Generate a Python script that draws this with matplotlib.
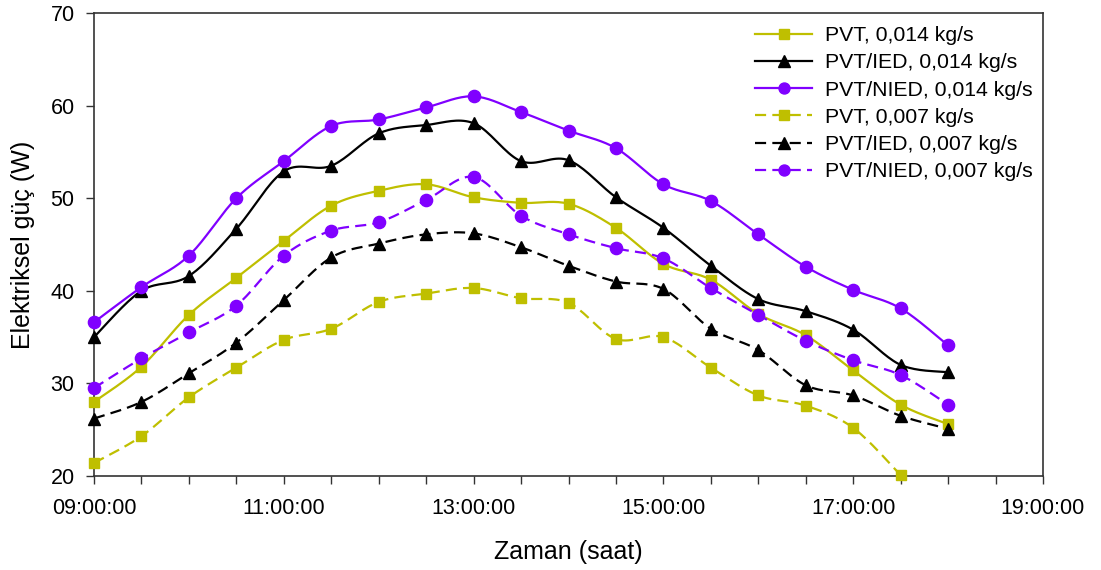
import numpy as np
import matplotlib
matplotlib.use("Agg")
import matplotlib.pyplot as plt
from matplotlib.ticker import MultipleLocator, FixedLocator, FixedFormatter

plt.rcParams['font.family'] = ['Liberation Sans', 'DejaVu Sans']

# time in hours (09:00 .. 18:00 every 30 min)
hours = [9.0, 9.5, 10.0, 10.5, 11.0, 11.5, 12.0, 12.5, 13.0, 13.5,
         14.0, 14.5, 15.0, 15.5, 16.0, 16.5, 17.0, 17.5, 18.0]

pvt_014 = [28.0, 31.8, 37.4, 41.4, 45.4, 49.2, 50.8, 51.5, 50.1, 49.5,
           49.4, 46.8, 42.9, 41.2, 37.5, 35.2, 31.4, 27.7, 25.6]
ied_014 = [35.0, 40.0, 41.6, 46.7, 52.9, 53.5, 57.0, 57.9, 58.1, 54.0,
           54.1, 50.1, 46.8, 42.7, 39.1, 37.8, 35.8, 32.0, 31.2]
nied_014 = [36.6, 40.4, 43.8, 50.0, 54.0, 57.8, 58.5, 59.8, 61.0, 59.3,
            57.3, 55.4, 51.5, 49.7, 46.1, 42.6, 40.1, 38.1, 34.1]
pvt_007 = [21.4, 24.3, 28.5, 31.7, 34.7, 35.9, 38.8, 39.7, 40.3, 39.2,
           38.7, 34.8, 35.0, 31.7, 28.7, 27.6, 25.2, 20.1]
ied_007 = [26.2, 28.0, 31.1, 34.4, 39.0, 43.6, 45.1, 46.1, 46.2, 44.7,
           42.7, 41.0, 40.2, 35.9, 33.6, 29.8, 28.7, 26.5, 25.1]
nied_007 = [29.5, 32.7, 35.5, 38.4, 43.8, 46.5, 47.4, 49.8, 52.3, 48.1,
            46.1, 44.6, 43.5, 40.3, 37.4, 34.6, 32.5, 30.9, 27.7]

labels = ["PVT, 0,014 kg/s", "PVT/IED, 0,014 kg/s", "PVT/NIED, 0,014 kg/s",
          "PVT, 0,007 kg/s", "PVT/IED, 0,007 kg/s", "PVT/NIED, 0,007 kg/s"]

x_tick_values = [9, 11, 13, 15, 17, 19]
x_tick_labels = ["09:00:00", "11:00:00", "13:00:00", "15:00:00", "17:00:00", "19:00:00"]

YELLOW = "#BFBF00"
PURPLE = "#8000FF"
BLACK = "#000000"


def smooth(xs, ys, n=20):
    """Excel-like smoothed line: cubic Bezier with Catmull-Rom control points."""
    xs = np.asarray(xs, float)
    ys = np.asarray(ys, float)
    P = np.column_stack([xs, ys])
    m = len(P)
    out = []
    t = np.linspace(0, 1, n)
    for i in range(m - 1):
        p0 = P[i - 1] if i > 0 else P[i]
        p1 = P[i]
        p2 = P[i + 1]
        p3 = P[i + 2] if i + 2 < m else P[i + 1]
        c1 = p1 + (p2 - p0) / 6.0
        c2 = p2 - (p3 - p1) / 6.0
        seg = ((1 - t) ** 3)[:, None] * p1 + (3 * (1 - t) ** 2 * t)[:, None] * c1 \
            + (3 * (1 - t) * t ** 2)[:, None] * c2 + (t ** 3)[:, None] * p2
        out.append(seg if i == 0 else seg[1:])
    arr = np.vstack(out)
    return arr[:, 0], arr[:, 1]


fig = plt.figure(figsize=(11.01, 5.70), dpi=100)
ax = fig.add_axes([94 / 1101, 1 - 476 / 570, (1043 - 94) / 1101, (476 - 13) / 570])

series = [
    (pvt_014, YELLOW, '-', 's', 7.8),
    (ied_014, BLACK, '-', '^', 9.0),
    (nied_014, PURPLE, '-', 'o', 8.8),
    (pvt_007, YELLOW, '--', 's', 7.8),
    (ied_007, BLACK, '--', '^', 9.0),
    (nied_007, PURPLE, '--', 'o', 8.8),
]

DASH = (5.0, 2.8)
handles = []
for (vals, col, ls, mk, ms), lab in zip(series, labels):
    xs = hours[:len(vals)]
    sx, sy = smooth(xs, vals)
    ln, = ax.plot(sx, sy, color=col, lw=1.6, ls=ls, clip_on=True)
    if ls == '--':
        ln.set_dashes(DASH)
    ax.plot(xs, vals, ls='none', marker=mk, ms=ms, color=col, mec=col,
            clip_on=False, zorder=3)
    h, = ax.plot([], [], color=col, lw=1.6, ls=ls, marker=mk, ms=ms * 0.9)
    if ls == '--':
        h.set_dashes(DASH)
    handles.append(h)

ax.set_xlim(9, 19)
ax.set_ylim(20, 70)
ax.xaxis.set_major_locator(FixedLocator(x_tick_values))
ax.xaxis.set_major_formatter(FixedFormatter(x_tick_labels))
ax.xaxis.set_minor_locator(MultipleLocator(0.5))
ax.yaxis.set_major_locator(MultipleLocator(10))

ax.tick_params(axis='both', which='both', direction='out', length=6, width=1.0,
               color='#333333', labelsize=15.5)
ax.tick_params(axis='x', which='major', pad=10)
ax.tick_params(axis='y', which='major', pad=8)
for sp in ax.spines.values():
    sp.set_color('#333333')
    sp.set_linewidth(1.2)

ax.set_xlabel("Zaman (saat)", fontsize=18, labelpad=15)
ax.set_ylabel("Elektriksel güç (W)", fontsize=18, labelpad=11)

leg = ax.legend(handles, labels, loc='upper left',
                bbox_to_anchor=(755 / 1101, 1 - 26 / 570), bbox_transform=fig.transFigure,
                frameon=False, fontsize=15.3, handlelength=2.7, handletextpad=0.6,
                labelspacing=0.39, borderpad=0, borderaxespad=0)

fig.savefig("out.png", dpi=100)
